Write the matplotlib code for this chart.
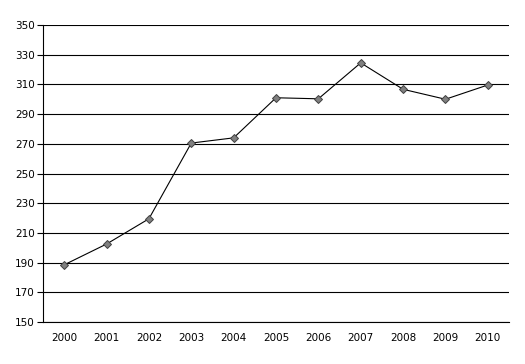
import matplotlib
matplotlib.use('Agg')
import matplotlib.pyplot as plt

anni = ['2000', '2001', '2002', '2003', '2004', '2005', '2006', '2007', '2008', '2009', '2010']
valori = [188.5, 202.5, 219.5, 270.5, 274, 301, 300.3, 324.5, 306.7, 300, 309.6]

fig = plt.figure(figsize=(5.25, 3.64), dpi=100)
ax = fig.add_axes([43/525, 42/364, 466/525, 297/364])

x = list(range(len(anni)))
ax.plot(x, valori, color='black', linewidth=0.8, marker='D', markersize=4.5,
        markerfacecolor='#808080', markeredgecolor='#404040', markeredgewidth=0.7, zorder=3)

ax.set_xlim(-0.5, len(anni) - 0.5)
ax.set_ylim(150, 350)
ax.set_yticks(range(150, 351, 20))
ax.set_xticks(x)
ax.set_xticklabels(anni)
ax.grid(axis='y', color='black', linewidth=0.8)
ax.tick_params(axis='x', length=0, pad=8, labelsize=7.5)
ax.tick_params(axis='y', length=4, width=0.8, pad=2, labelsize=7.5)

for s in ['top', 'right']:
    ax.spines[s].set_visible(False)
ax.spines['left'].set_linewidth(0.8)
ax.spines['bottom'].set_linewidth(0.8)

plt.savefig('out.png', dpi=100)
